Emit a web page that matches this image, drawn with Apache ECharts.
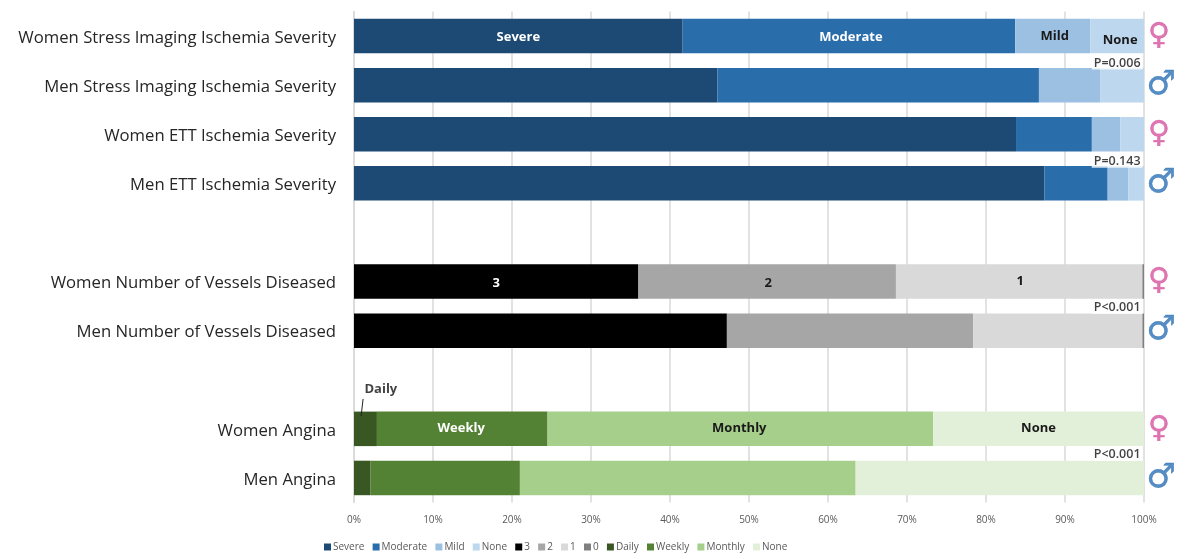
<!DOCTYPE html>
<html><head><meta charset="utf-8">
<script src="https://cdn.jsdelivr.net/npm/echarts@6/dist/echarts.min.js"></script>
<style>html,body{margin:0;padding:0;background:#fff}#c{width:1197px;height:559px}</style>
</head><body><div id="c"></div>
<script>
const categories = ['Women Stress Imaging Ischemia Severity','Men Stress Imaging Ischemia Severity','Women ETT Ischemia Severity','Men ETT Ischemia Severity','','Women Number of Vessels Diseased','Men Number of Vessels Diseased','','Women Angina','Men Angina'];
const severe   = [41.6,46.0,83.8,87.4,null,null,null,null,null,null];
const moderate = [42.1,40.7,9.6,8.0,null,null,null,null,null,null];
const mild     = [9.5,7.8,3.6,2.6,null,null,null,null,null,null];
const noneIsch = [6.8,5.5,3.0,2.0,null,null,null,null,null,null];
const v3 = [null,null,null,null,null,36.0,47.2,null,null,null];
const v2 = [null,null,null,null,null,32.6,31.2,null,null,null];
const v1 = [null,null,null,null,null,31.2,21.4,null,null,null];
const v0 = [null,null,null,null,null,0.2,0.2,null,null,null];
const daily   = [null,null,null,null,null,null,null,null,2.9,2.1];
const weekly  = [null,null,null,null,null,null,null,null,21.6,18.9];
const monthly = [null,null,null,null,null,null,null,null,48.8,42.5];
const noneAng = [null,null,null,null,null,null,null,null,26.7,36.5];
const pValues = [['P=0.006',96.6,0.55],['P=0.143',96.6,2.55],['P<0.001',96.6,5.53],['P<0.001',96.6,8.52]];
const femaleRows = [0,2,5,8];
const maleRows = [1,3,6,9];
const FONT = '"Open Sans","Noto Sans",sans-serif';

function bar(name, data, color, labelRow, labelColor, extra) {
  return {
    name, type:'bar', stack:'t', barWidth:34.5, itemStyle:{color}, xAxisIndex:0, yAxisIndex:0,
    data: data.map((v,i)=> i===labelRow ? {value:v,label:Object.assign({show:true,position:'inside',formatter:name.trim(),color:labelColor,fontFamily:FONT,fontWeight:'bold',fontSize:13,offset:[0,1]},extra||{})} : v)
  };
}
const series = [
  bar('Severe',severe,'#1c4a75',0,'#fff'),
  bar('Moderate',moderate,'#2a6dab',0,'#fff',{offset:[2,1]}),
  bar('Mild',mild,'#9cc0e2',0,'#1a1a1a',{offset:[2,0]}),
  bar('None',noneIsch,'#bdd7ee',0,'#1a1a1a',{offset:[3,4]}),
  bar('3',v3,'#000000',5,'#fff',{offset:[0,2]}),
  bar('2',v2,'#a6a6a6',5,'#1a1a1a',{offset:[1,2]}),
  bar('1',v1,'#d9d9d9',5,'#1a1a1a',{offset:[1,0]}),
  bar('0',v0,'#7f7f7f',-1),
  bar('Daily',daily,'#385723',-1),
  bar('Weekly',weekly,'#548235',8,'#fff',{offset:[-1,-1]}),
  bar('Monthly',monthly,'#a5cf8b',8,'#1a1a1a',{offset:[-1,-1]}),
  bar('None ',noneAng,'#e2f0d9',8,'#1a1a1a',{offset:[0,-1]}),
  {type:'scatter',xAxisIndex:0,yAxisIndex:1,symbolSize:0,silent:true,z:5,
   data:pValues.map(p=>({value:[p[1],p[2]],label:{show:true,position:'inside',formatter:p[0],fontFamily:FONT,fontSize:12.5,fontWeight:600,color:'#111',backgroundColor:'#fff',padding:[0,2]}}))
     .concat([{value:[3.4,7.2],label:{show:true,position:'inside',formatter:'Daily',fontFamily:FONT,fontSize:13,fontWeight:'bold',color:'#111'}}]),
   markLine:{silent:true,symbol:'none',label:{show:false},lineStyle:{color:'#222',width:1,type:'solid'},
     data:[[{coord:[1.15,7.39]},{coord:[0.9,7.74]}]]}},
  {type:'scatter',xAxisIndex:0,yAxisIndex:1,symbolSize:0,silent:true,z:5,
   data:femaleRows.map(r=>[100,r]),label:{show:true,position:'inside',offset:[15,0],formatter:'\u2640',fontFamily:'"DejaVu Sans"',fontWeight:'bold',fontSize:30,color:'#d6549f',textBorderColor:'#d6549f',textBorderWidth:0.5}},
  {type:'scatter',xAxisIndex:0,yAxisIndex:1,symbolSize:0,silent:true,z:5,
   data:maleRows.map(r=>[100,r]),label:{show:true,position:'inside',offset:[17,0],formatter:'\u2642',fontFamily:'"DejaVu Sans"',fontWeight:'bold',fontSize:33,color:'#2a70b5',textBorderColor:'#2a70b5',textBorderWidth:0.5}}
];
const chart = echarts.init(document.getElementById('c'),null,{renderer:'canvas'});
chart.setOption({
  animation:false,
  backgroundColor:'#fff',
  grid:{left:354,right:53,top:11.5,height:491,containLabel:false},
  xAxis:{type:'value',min:0,max:100,interval:10,
    axisLine:{show:false},axisTick:{show:false},
    axisLabel:{formatter:'{value}%',fontFamily:FONT,fontSize:10,color:'#595959',margin:13},
    splitLine:{show:true,lineStyle:{color:'#d9d9d9',width:1.5}}},
  yAxis:[
    {type:'category',inverse:true,data:categories,axisTick:{show:false},
     axisLine:{show:true,lineStyle:{color:'#d9d9d9',width:1.5}},
     axisLabel:{margin:18,interval:0,formatter:v=>v?`{a|${v}}`:'',
       rich:{a:{fontFamily:FONT,fontSize:16.7,color:'#262626',padding:[4,0,0,0]}}}},
    {type:'value',inverse:true,min:-0.5,max:9.5,show:false}
  ],
  legend:{bottom:7,left:324,itemWidth:7,itemHeight:7,itemGap:8.2,padding:0,icon:'rect',selectedMode:false,
    data:['Severe','Moderate','Mild','None','3','2','1','0','Daily','Weekly','Monthly','None '],
    textStyle:{fontFamily:FONT,fontSize:10,color:'#595959',padding:[0,0,0,-3]}},
  series
});
</script></body></html>
